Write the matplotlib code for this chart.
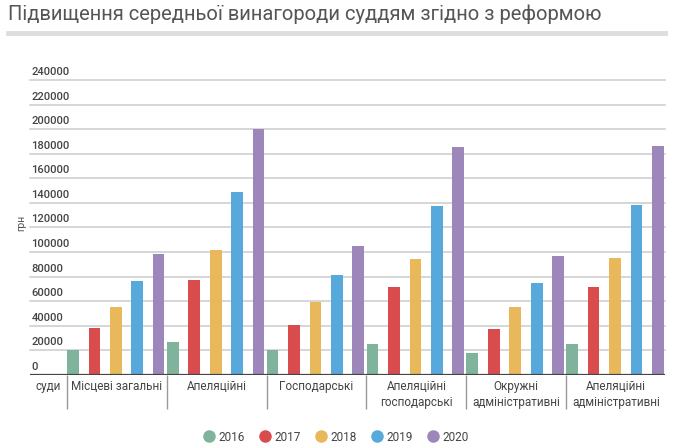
import matplotlib
matplotlib.use("Agg")
import matplotlib.pyplot as plt
from matplotlib.lines import Line2D
import matplotlib.transforms as mtransforms

plt.rcParams['font.family'] = ['Roboto', 'DejaVu Sans']

categories = ["Місцеві загальні", "Апеляційні", "Господарські",
              "Апеляційні\nгосподарські", "Окружні\nадміністративні",
              "Апеляційні\nадміністративні"]
years = ["2016", "2017", "2018", "2019", "2020"]
v2016 = [20000, 27000, 20000, 25200, 17600, 25000]
v2017 = [38000, 77300, 40400, 71300, 37400, 71900]
v2018 = [55600, 102000, 59700, 94400, 55000, 95200]
v2019 = [76200, 148600, 81400, 137500, 74800, 138300]
v2020 = [98400, 200100, 105000, 185200, 96800, 186600]
series = [v2016, v2017, v2018, v2019, v2020]
colors = ["#7fb39b", "#d94c4e", "#e9b85b", "#56a9da", "#9d87ba"]
yticks = [0, 20000, 40000, 60000, 80000, 100000, 120000, 140000,
          160000, 180000, 200000, 220000, 240000]

W, H = 673, 448
fig = plt.figure(figsize=(W / 100, H / 100), dpi=100)
fig.patch.set_facecolor("white")

# title and separator bar
fig.text(8 / W, 1 - 14 / H, "Підвищення середньої винагороди суддям згідно з реформою",
         fontsize=14.5, color="#555555", ha="left", va="center")
fig.add_artist(Line2D([8 / W, 665 / W], [1 - 33 / H, 1 - 33 / H],
                      color="#dddddd", linewidth=3.5))

ax = fig.add_axes([30 / W, (H - 375) / H, (665 - 30) / W, (375 - 80) / H])
ax.set_xlim(-0.37, 5.99)
ax.set_ylim(0, 240000)

offsets = [0.06, 0.275, 0.49, 0.705, 0.918]
width = 0.117
for j, (vals, c) in enumerate(zip(series, colors)):
    xs = [i + offsets[j] for i in range(len(categories))]
    ax.bar(xs, vals, width=width, color=c, zorder=3)

# gridlines
for t in yticks[1:]:
    ax.axhline(t, color="#cccccc", linewidth=1.1, zorder=1, clip_on=False)
ax.axhline(0, color="#444444", linewidth=1.6, zorder=4)

# y tick labels above gridlines
trans = mtransforms.blended_transform_factory(ax.transAxes, ax.transData)
for t in yticks:
    ax.annotate(str(t), xy=(0.002, t), xycoords=trans, xytext=(0, 3),
                textcoords="offset pixels", fontsize=8, color="#444444",
                ha="left", va="bottom", fontweight="medium")

for s in ax.spines.values():
    s.set_visible(False)
ax.set_yticks([])
ax.set_xticks(range(len(categories)))
ax.set_xticklabels([])
ax.tick_params(axis="x", direction="out", length=24.5, width=1, color="#999999")

# category labels
xtr = mtransforms.blended_transform_factory(ax.transData, ax.transAxes)
ax.annotate("суди", xy=(-0.185, 0), xycoords=xtr, xytext=(0, -5),
            textcoords="offset pixels", ha="center", va="top",
            fontsize=8.5, color="#444444", linespacing=1.25)
for i, cat in enumerate(categories):
    ax.annotate(cat, xy=(i + 0.5, 0), xycoords=xtr, xytext=(0, -5),
                textcoords="offset pixels", ha="center", va="top",
                fontsize=8.5, color="#444444", linespacing=1.25)

fig.text(21 / W, 1 - 223 / H, "грн", rotation=90, fontsize=7.5,
         color="#555555", ha="center", va="center")

handles = [Line2D([], [], marker="o", linestyle="none", markersize=8,
                  markerfacecolor=c, markeredgecolor=c) for c in colors]
fig.legend(handles, years, loc="center", bbox_to_anchor=(336 / W, 1 - 437 / H),
           ncol=5, frameon=False, fontsize=8.5, handletextpad=0.3,
           columnspacing=1.2, labelcolor="#444444", handlelength=1.0)

fig.savefig("out.png", dpi=100, facecolor="white")
